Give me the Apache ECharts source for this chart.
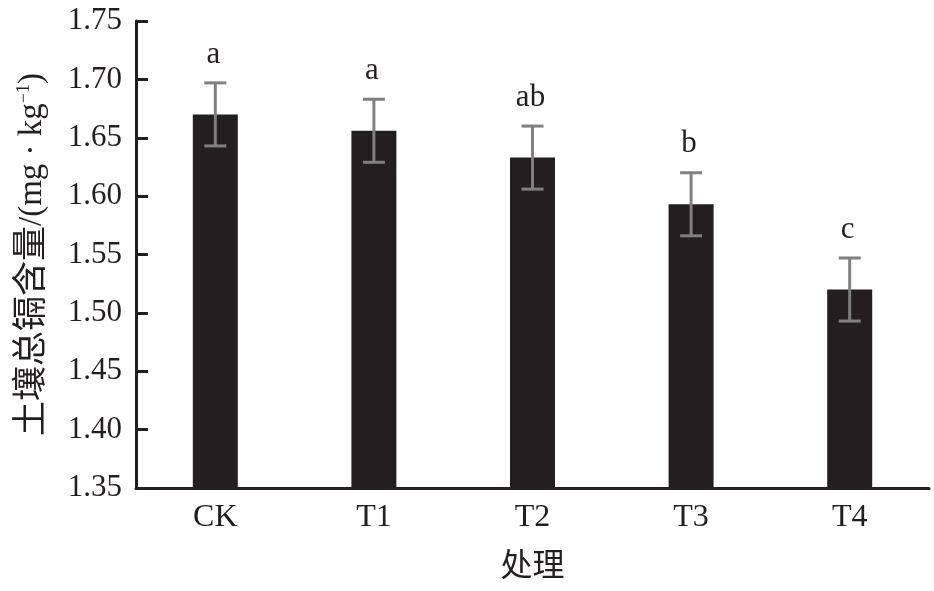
<!DOCTYPE html>
<html>
<head>
<meta charset="utf-8">
<script src="https://cdn.jsdelivr.net/npm/echarts@6/dist/echarts.min.js"></script>
<style>
  html, body { margin: 0; padding: 0; background: #fff; }
  #chart { width: 934px; height: 591px; }
</style>
</head>
<body>
<div id="chart"></div>
<script>
// treatments and soil total Cd content
const categories = ['CK', 'T1', 'T2', 'T3', 'T4'];
const means = [1.670, 1.656, 1.633, 1.593, 1.520];
const errors = [0.027, 0.027, 0.027, 0.027, 0.027];
const letters = ['a', 'a', 'ab', 'b', 'c'];

const textColor = '#231f20';
const latin = '"Liberation Serif", "Times New Roman", serif';
const cjk = '"Liberation Serif", "Noto Sans CJK SC", serif';

const chart = echarts.init(document.getElementById('chart'));

const errorData = means.map((m, i) => [i, m - errors[i], m + errors[i], letters[i]]);

const renderError = (params, api) => {
  const x = api.value(0);
  const low = api.coord([x, api.value(1)]);
  const high = api.coord([x, api.value(2)]);
  const half = 11;
  const style = { stroke: '#808080', lineWidth: 3 };
  return {
    type: 'group',
    children: [
      { type: 'line', shape: { x1: high[0], y1: high[1], x2: low[0], y2: low[1] }, style },
      { type: 'line', shape: { x1: high[0] - half, y1: high[1], x2: high[0] + half, y2: high[1] }, style },
      { type: 'line', shape: { x1: low[0] - half, y1: low[1], x2: low[0] + half, y2: low[1] }, style },
      {
        type: 'text',
        x: high[0] - 2,
        y: high[1] - 13,
        style: {
          text: api.value(3),
          fill: textColor,
          font: '31px ' + latin,
          align: 'center',
          verticalAlign: 'bottom',
        },
      },
    ],
  };
};

chart.setOption({
  animation: false,
  grid: { left: 136, right: 5, top: 21, bottom: 103 },
  xAxis: {
    type: 'category',
    data: categories,
    name: '处理',
    nameLocation: 'middle',
    nameGap: 64,
    nameTextStyle: { color: textColor, fontSize: 32, fontFamily: cjk },
    axisLine: { lineStyle: { color: textColor, width: 3 } },
    axisTick: { inside: true, length: 13, lineStyle: { color: textColor, width: 3 } },
    axisLabel: { color: textColor, fontSize: 32, fontFamily: latin, margin: 14 },
  },
  yAxis: {
    type: 'value',
    min: 1.35,
    max: 1.75,
    interval: 0.05,
    name: '{c|土壤总镉含量}{l|/(mg · kg}{s|−1}{l|)}',
    nameLocation: 'middle',
    nameGap: 86,
    nameTextStyle: {
      rich: {
        c: { color: textColor, fontSize: 35, fontFamily: cjk },
        l: { color: textColor, fontSize: 33, fontFamily: latin },
        s: { color: textColor, fontSize: 18, fontFamily: latin, verticalAlign: 'top', padding: [0, 0, 14, 0] },
      },
    },
    splitLine: { show: false },
    axisLine: { show: true, lineStyle: { color: textColor, width: 3 } },
    axisTick: { show: true, inside: true, length: 12, lineStyle: { color: textColor, width: 3 } },
    axisLabel: {
      color: textColor,
      fontSize: 31,
      fontFamily: latin,
      margin: 14,
      formatter: (v) => v.toFixed(2),
    },
  },
  series: [
    {
      type: 'bar',
      data: means,
      barWidth: 45,
      itemStyle: { color: textColor },
    },
    {
      type: 'custom',
      data: errorData,
      renderItem: renderError,
      z: 3,
    },
  ],
});
</script>
</body>
</html>
